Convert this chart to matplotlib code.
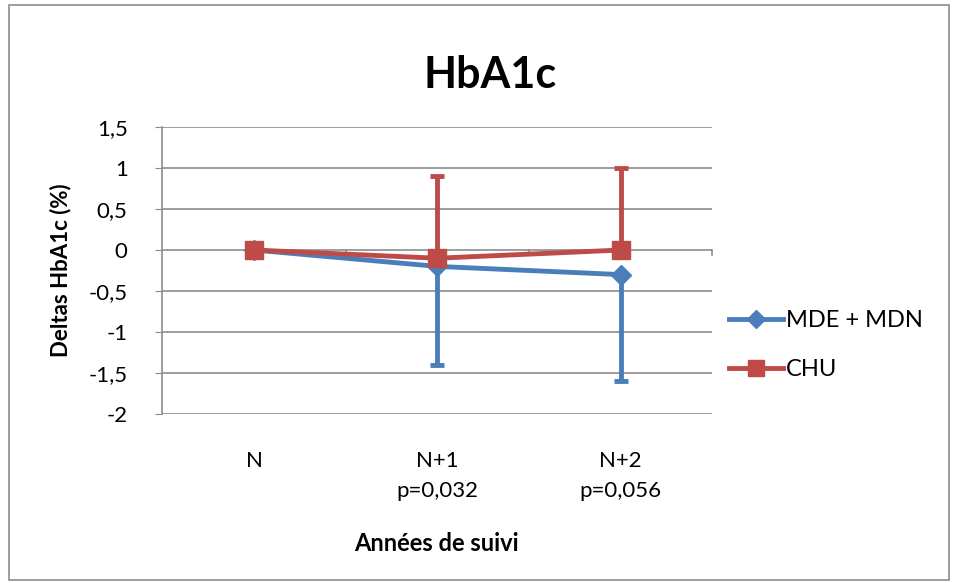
import matplotlib.pyplot as plt
from matplotlib.patches import Rectangle
from matplotlib.lines import Line2D
from matplotlib.ticker import FuncFormatter

plt.rcParams['font.family'] = ['Lato', 'DejaVu Sans']

# data
categories = ['N', 'N+1\np=0,032', 'N+2\np=0,056']
mde_mdn = [0, -0.2, -0.3]
mde_err_low = [0, 1.2, 1.3]
chu = [0, -0.1, 0]
chu_err_high = [0, 1.0, 1.0]

blue = '#4a7ebb'
red = '#be4b48'

fig = plt.figure(figsize=(9.55, 5.83), dpi=100)
ax = fig.add_axes([0.170, 0.290, 0.576, 0.492])

x = list(range(len(categories)))

ax.errorbar(x, mde_mdn, yerr=[mde_err_low, [0] * 3], color=blue, lw=3.5,
            marker='D', ms=10, capsize=5, capthick=3.5, elinewidth=3.5, zorder=3)
ax.errorbar(x, chu, yerr=[[0] * 3, chu_err_high], color=red, lw=3.5,
            marker='s', ms=13, capsize=5, capthick=3.5, elinewidth=3.5, zorder=4)

ax.set_xlim(-0.5, 2.5)
ax.set_ylim(-2, 1.5)
ax.set_yticks([-2, -1.5, -1, -0.5, 0, 0.5, 1, 1.5])
ax.yaxis.set_major_formatter(FuncFormatter(lambda v, p: ('%g' % v).replace('.', ',')))
ax.grid(axis='y', color='#8c8c8c', lw=1.2)
ax.set_axisbelow(True)

for s in ['top', 'right', 'bottom']:
    ax.spines[s].set_visible(False)
ax.spines['left'].set_color('#8c8c8c')
ax.spines['left'].set_linewidth(1.2)
ax.tick_params(axis='y', length=5, color='#8c8c8c', labelsize=16, pad=20)

# category axis ticks between categories
ax.set_xticks([])
for b in [0.5, 1.5, 2.5]:
    ax.plot([b, b], [0, -0.06], color='#8c8c8c', lw=1.2, zorder=1, clip_on=False)
for i, c in enumerate(categories):
    ax.text(i, -2.45, c, ha='center', va='top', fontsize=16, linespacing=1.65)

ax.set_ylabel('Deltas HbA1c (%)', fontsize=16, fontweight='bold', labelpad=12)
fig.text(0.457, 0.067, 'Années de suivi', ha='center', va='center',
         fontsize=17, fontweight='bold')
fig.text(0.513, 0.872, 'HbA1c', ha='center', va='center',
         fontsize=31, fontweight='bold')

handles = [Line2D([], [], color=blue, lw=3.5, marker='D', ms=9),
           Line2D([], [], color=red, lw=3.5, marker='s', ms=12)]
ax.legend(handles, ['MDE + MDN', 'CHU'], loc='center left',
          bbox_to_anchor=(1.0, 0.24), frameon=False,
          fontsize=17, handlelength=2.3, handletextpad=0.1, labelspacing=1.2,
          borderaxespad=0.3)

fig.patches.append(Rectangle((0.009, 0.006), 0.985, 0.985, transform=fig.transFigure,
                             fill=False, edgecolor='#8c8c8c', lw=1.2))

fig.savefig('out.png', dpi=100)
